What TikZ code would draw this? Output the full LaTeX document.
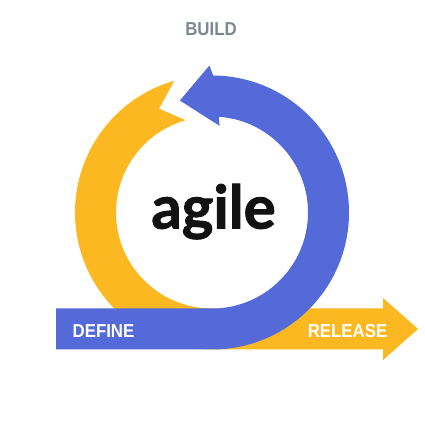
\documentclass[tikz,border=0pt]{standalone}
\usepackage{fontspec}
\setmainfont{Liberation Sans}
\newfontfamily\labelfont{Liberation Sans}[FakeStretch=0.9]
\newfontfamily\logofont{Lato}[BoldFeatures={FakeBold=1.6}]
\definecolor{agileyellow}{RGB}{251,184,32}
\definecolor{agileblue}{RGB}{84,106,216}
\definecolor{buildgray}{RGB}{125,135,145}
\begin{document}
\begin{tikzpicture}[x=1pt,y=1pt,
  phase/.style={font=\labelfont\bfseries\fontsize{18.7}{20}\selectfont, anchor=base, inner sep=0pt},
  yellowband/.style={fill=agileyellow, draw=none},
  blueband/.style={fill=agileblue, draw=none}]
\useasboundingbox (0,0) rectangle (425,425);
\fill[white] (0,0) rectangle (425,425);
\begin{scope}[shift={(212,212.5)}]
  % yellow band: notched tail at the top, down the left side, out to the right as an arrow
  \path[yellowband] (106:137) arc[start angle=106, end angle=270, radius=137]
    -- (171,-137) -- (171,-147.5) -- (206,-116.5) -- (171,-85.5) -- (171,-96)
    -- (0,-96) arc[start angle=270, end angle=106, radius=96]
    -- (117:116.5) -- cycle;
  % blue band: bar from the left, up the right side, arrowhead at the top
  \path[blueband] (-156,-137) -- (0,-137)
    arc[start angle=-90, end angle=89.5, radius=137]
    -- (91:147) -- (106:116.5) -- (85:87) -- (86:96)
    arc[start angle=86, end angle=-90, radius=96]
    -- (-156,-96) -- cycle;
\end{scope}
\node[phase, text=buildgray] (build) at (211,389.3) {BUILD};
\node[phase, text=white] (define) at (103.5,87.7) {DEFINE};
\node[phase, text=white] (release) at (347.5,87.7) {RELEASE};
\node[font=\logofont\bfseries\fontsize{60}{62}\selectfont, anchor=base, inner sep=0pt, text=black!93] (agile) at (213.5,196.5) {agile};
\end{tikzpicture}
\end{document}
